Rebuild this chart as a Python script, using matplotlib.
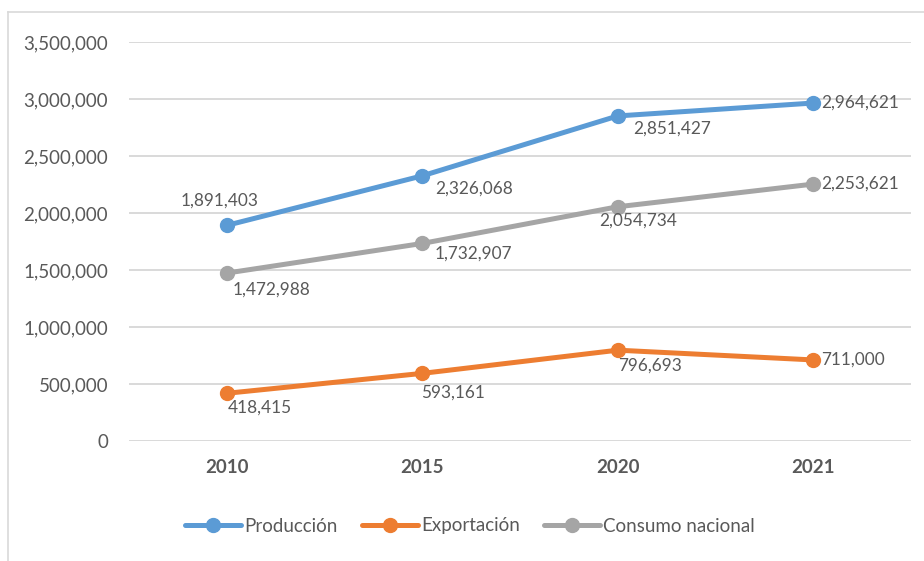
import matplotlib.pyplot as plt
from matplotlib.lines import Line2D
from matplotlib.ticker import FuncFormatter

# Datos
years = ['2010', '2015', '2020', '2021']
produccion = [1891403, 2326068, 2851427, 2964621]
exportacion = [418415, 593161, 796693, 711000]
consumo = [1472988, 1732907, 2054734, 2253621]

# label offsets in points (dx, dy, ha) per point
prod_offsets = [(-5, 18, 'center'), (9, -9, 'left'), (11, -9, 'left'), (6, 0, 'left')]
exp_offsets = [(1, -10, 'left'), (22, -14, 'center'), (0, -11, 'left'), (6, 0, 'left')]
cons_offsets = [(4, -12, 'left'), (9, -7, 'left'), (15, -10, 'center'), (6, 0, 'left')]

plt.rcParams['font.family'] = ['Lato', 'DejaVu Sans']
text_color = '#595959'

fig = plt.figure(figsize=(9.24, 5.61), dpi=100)
ax = fig.add_axes([129 / 924, 1 - 441 / 561, 782 / 924, 399 / 561])

x = range(len(years))
series = [
    ('Producción', produccion, '#5B9BD5', prod_offsets),
    ('Exportación', exportacion, '#ED7D31', exp_offsets),
    ('Consumo nacional', consumo, '#A5A5A5', cons_offsets),
]
for name, vals, color, offs in series:
    ax.plot(x, vals, color=color, lw=3.6, marker='o', ms=10, label=name,
            solid_capstyle='round', zorder=3)
    for xi, v, (dx, dy, ha) in zip(x, vals, offs):
        ax.annotate(f'{v:,}', (xi, v), xytext=(dx, dy), textcoords='offset points',
                    ha=ha, va='center', fontsize=12.4, color=text_color)

ax.set_xlim(-0.5, 3.5)
ax.set_ylim(0, 3500000)
ax.set_yticks(range(0, 3500001, 500000))
ax.yaxis.set_major_formatter(FuncFormatter(lambda v, p: f'{int(v):,}'))
ax.set_xticks(list(x))
ax.set_xticklabels(years, fontweight='bold')
ax.tick_params(axis='both', length=0, labelsize=13.5, colors=text_color)
ax.tick_params(axis='y', pad=15)
ax.tick_params(axis='x', pad=13)
ax.grid(axis='y', color='#d9d9d9', lw=1.4)
ax.set_axisbelow(True)
for s in ax.spines.values():
    s.set_visible(False)

leg = fig.legend(loc='center', bbox_to_anchor=(470 / 924, 1 - 526 / 561), ncol=3,
                 frameon=False, fontsize=13.5, handlelength=3.0, handletextpad=0.15,
                 columnspacing=1.3, labelcolor=text_color)

# outer border of the chart area
fig.add_artist(Line2D([8 / 924, 8 / 924], [0, 1 - 12 / 561], transform=fig.transFigure,
                      color='#d9d9d9', lw=1.2))
fig.add_artist(Line2D([8 / 924, 1], [1 - 12 / 561, 1 - 12 / 561], transform=fig.transFigure,
                      color='#d9d9d9', lw=1.2))

fig.savefig('out.png', dpi=100)
